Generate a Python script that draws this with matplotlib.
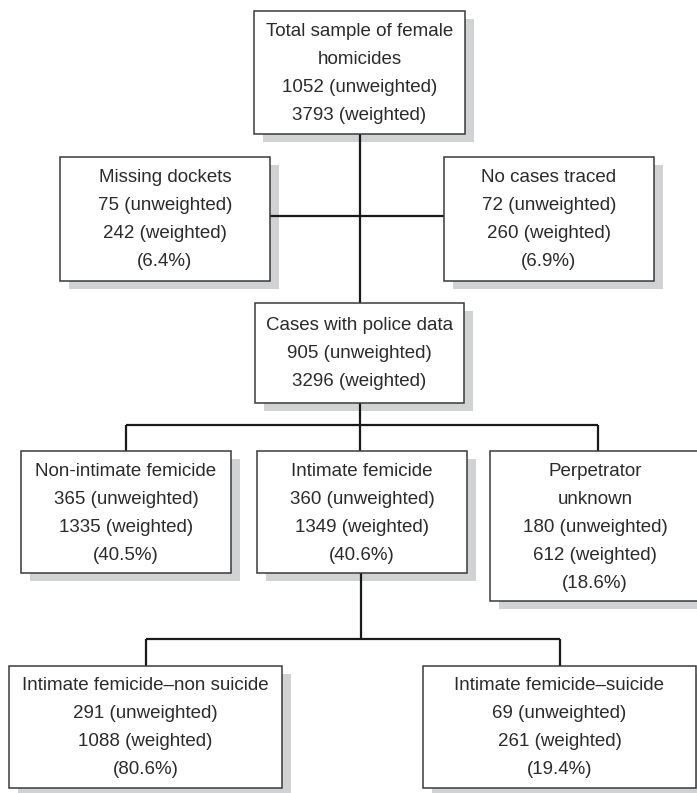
import matplotlib
matplotlib.use("Agg")
import matplotlib.pyplot as plt
from matplotlib.patches import Rectangle

# ── node contents ────────────────────────────────────────────────────
names = ["Total sample of female\nhomicides", "Missing dockets", "No cases traced",
         "Cases with police data", "Non-intimate femicide", "Intimate femicide",
         "Perpetrator\nunknown", "Intimate femicide\u2013non suicide",
         "Intimate femicide\u2013suicide"]
unweighted = [1052, 75, 72, 905, 365, 360, 180, 291, 69]
weighted = [3793, 242, 260, 3296, 1335, 1349, 612, 1088, 261]
pct = [None, 6.4, 6.9, None, 40.5, 40.6, 18.6, 80.6, 19.4]

# ── layout (pixel coords: left, top, right, bottom) ──────────────────
boxes = [(254, 11, 465, 134), (60, 157, 270, 281), (444, 157, 654, 281),
         (255, 303, 464, 403), (21, 451, 231, 573), (257, 451, 467, 573),
         (490, 451, 700, 601), (9, 666, 282, 788), (423, 666, 696, 788)]

W, H = 697, 793
fig = plt.figure(figsize=(W / 100, H / 100), dpi=100)
ax = fig.add_axes([0, 0, 1, 1])
ax.set_xlim(0, W)
ax.set_ylim(H, 0)
ax.axis("off")

FONT = ["Liberation Sans", "DejaVu Sans"]
PITCH = 28
SHADOW = "#d1d2d4"
EDGE = "#3a3a3a"
LINE = "#1a1a1a"

for (l, t, r, b), nm, uw, w, p in zip(boxes, names, unweighted, weighted, pct):
    ax.add_patch(Rectangle((l + 9, t + 8), r - l, b - t, facecolor=SHADOW,
                           edgecolor="none", zorder=1))
    ax.add_patch(Rectangle((l, t), r - l, b - t, facecolor="white",
                           edgecolor=EDGE, linewidth=1.1, zorder=2))
    lines = nm.split("\n") + [f"{uw} (unweighted)", f"{w} (weighted)"]
    if p is not None:
        lines.append(f"({p}%)")
    cx, cy = (l + r) / 2, (t + b) / 2
    y0 = cy - PITCH * (len(lines) - 1) / 2
    for k, s in enumerate(lines):
        ax.text(cx, y0 + k * PITCH + 1, s, ha="center", va="center", fontsize=13.5,
                family=FONT, color="#2b2b2b", zorder=3)


def seg(x0, y0, x1, y1):
    ax.plot([x0, x1], [y0, y1], color=LINE, linewidth=1.6,
            solid_capstyle="butt", zorder=1.5)


def cx_of(i):
    return (boxes[i][0] + boxes[i][2]) / 2


# top -> police data, side branches
seg(360, boxes[0][3], 360, boxes[3][1])
seg(boxes[1][2], 216, boxes[2][0], 216)

# police data -> three categories
bus1 = 425
seg(360, boxes[3][3], 360, boxes[5][1])
seg(cx_of(4), bus1, 598, bus1)
for i, x in ((4, cx_of(4)), (6, 598)):
    seg(x, bus1, x, boxes[i][1])

# intimate -> suicide split
bus2 = 639
seg(361, boxes[5][3], 361, bus2)
seg(cx_of(7), bus2, cx_of(8), bus2)
for i in (7, 8):
    seg(cx_of(i), bus2, cx_of(i), boxes[i][1])

fig.savefig("out.png", dpi=100)
